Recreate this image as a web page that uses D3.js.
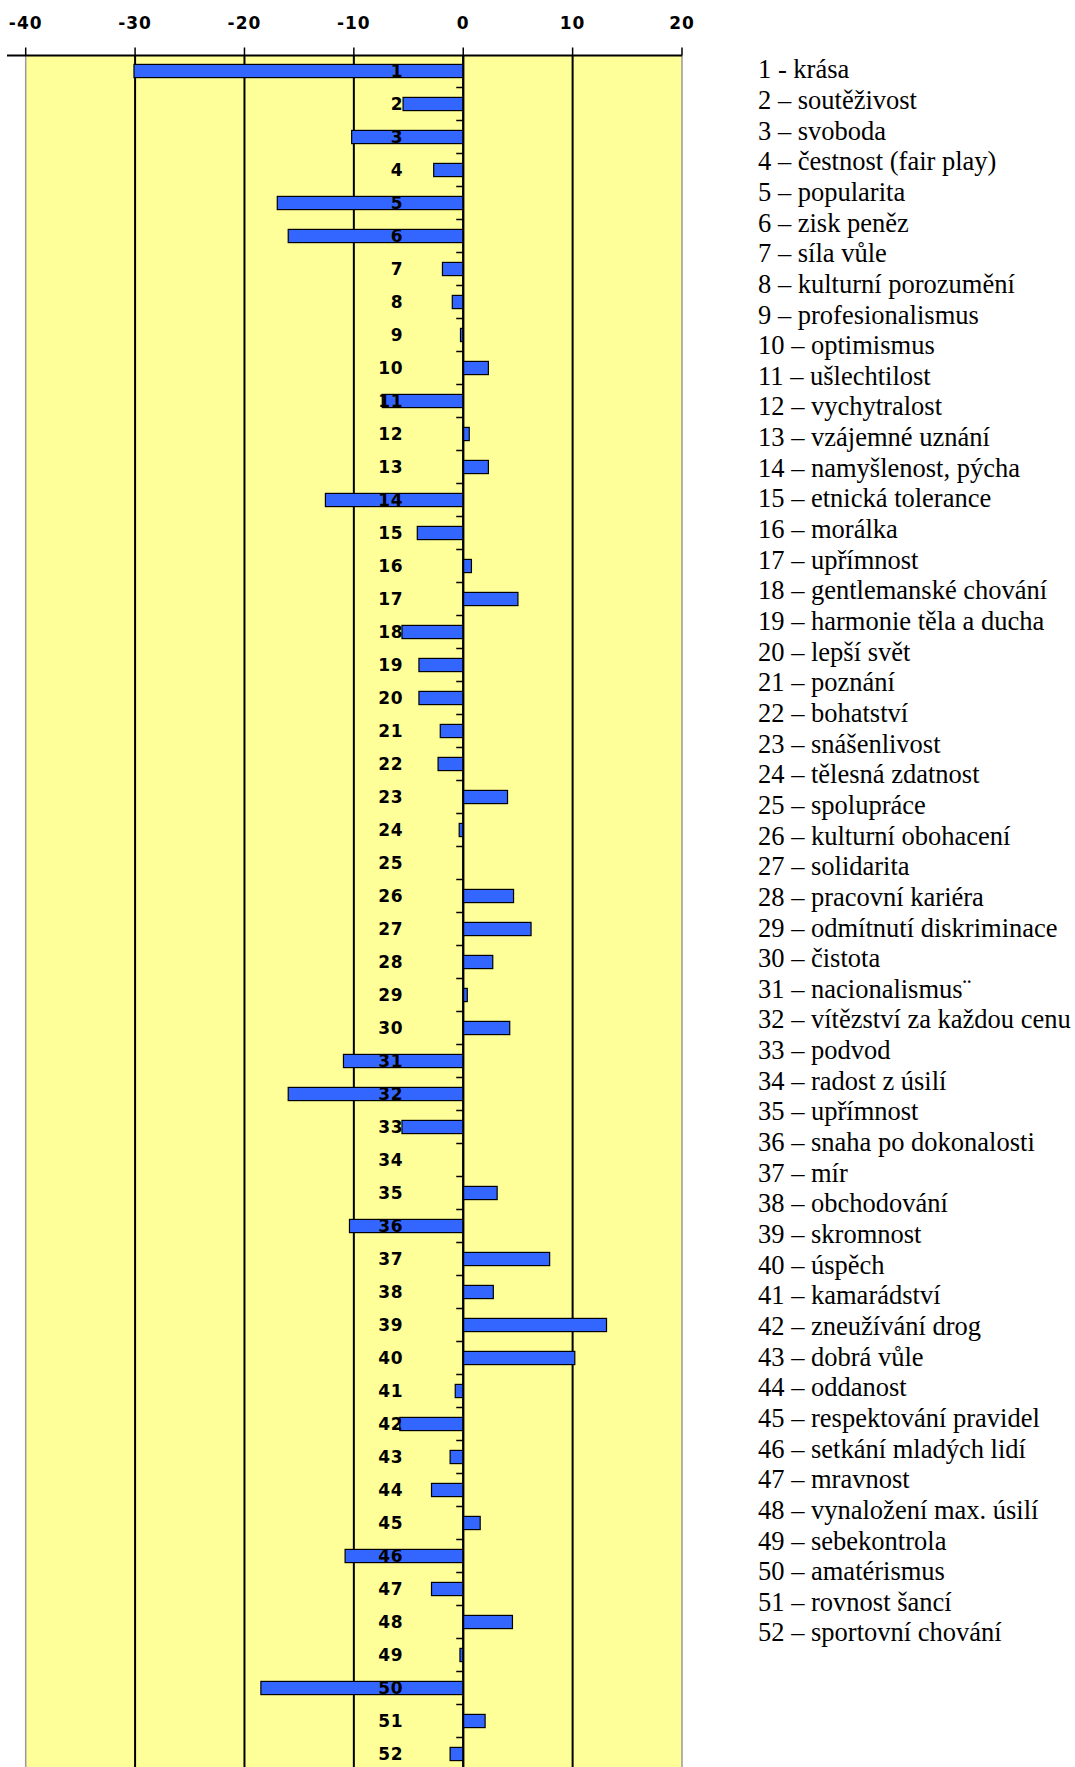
<!DOCTYPE html>
<html>
<head>
<meta charset="utf-8">
<script src="https://cdn.jsdelivr.net/npm/d3@7"></script>
<style>
  body { margin: 0; background: #fff; }
</style>
</head>
<body>
<div id="chart"></div>
<script>
// category numbers 1..52
const categories = [];
for (let i = 1; i <= 52; i++) categories.push(i);

// value for each category
const values = [
  -30.1, -5.5, -10.2, -2.7, -17.0, -16.0, -1.9, -1.0, -0.25, 2.3,
  -7.4, 0.55, 2.3, -12.6, -4.2, 0.75, 5.0, -5.6, -4.05, -4.05,
  -2.1, -2.3, 4.05, -0.37, 0, 4.6, 6.2, 2.7, 0.37, 4.25,
  -10.95, -16.0, -5.6, 0, 3.1, -10.4, 7.9, 2.75, 13.1, 10.2,
  -0.73, -5.8, -1.2, -2.9, 1.55, -10.8, -2.9, 4.5, -0.3, -18.5,
  2.0, -1.2
];

const legendLabels = [
  '1 - krása',
  '2 – soutěživost',
  '3 – svoboda',
  '4 – čestnost (fair play)',
  '5 – popularita',
  '6 – zisk peněz',
  '7 – síla vůle',
  '8 – kulturní porozumění',
  '9 – profesionalismus',
  '10 – optimismus',
  '11 – ušlechtilost',
  '12 – vychytralost',
  '13 – vzájemné uznání',
  '14 – namyšlenost, pýcha',
  '15 – etnická tolerance',
  '16 – morálka',
  '17 – upřímnost',
  '18 – gentlemanské chování',
  '19 – harmonie těla a ducha',
  '20 – lepší svět',
  '21 – poznání',
  '22 – bohatství',
  '23 – snášenlivost',
  '24 – tělesná zdatnost',
  '25 – spolupráce',
  '26 – kulturní obohacení',
  '27 – solidarita',
  '28 – pracovní kariéra',
  '29 – odmítnutí diskriminace',
  '30 – čistota',
  '31 – nacionalismus¨',
  '32 – vítězství za každou cenu',
  '33 – podvod',
  '34 – radost z úsilí',
  '35 – upřímnost',
  '36 – snaha po dokonalosti',
  '37 – mír',
  '38 – obchodování',
  '39 – skromnost',
  '40 – úspěch',
  '41 – kamarádství',
  '42 – zneužívání drog',
  '43 – dobrá vůle',
  '44 – oddanost',
  '45 – respektování pravidel',
  '46 – setkání mladých lidí',
  '47 – mravnost',
  '48 – vynaložení max. úsilí',
  '49 – sebekontrola',
  '50 – amatérismus',
  '51 – rovnost šancí',
  '52 – sportovní chování'
];

const xTicks = [-40, -30, -20, -10, 0, 10, 20];

const width = 1075;
const height = 1767;
const axisY = 55.5;
const bandStep = 33;

const svg = d3.select('#chart')
  .append('svg')
  .attr('width', width)
  .attr('height', height);

const x = d3.scaleLinear()
  .domain([-40, 20])
  .range([25.7, 682]);

const y = d3.scaleBand()
  .domain(categories)
  .range([axisY - 1, axisY - 1 + categories.length * bandStep])
  .padding(0);

// yellow plot area
svg.append('rect')
  .attr('x', x(-40))
  .attr('y', axisY)
  .attr('width', x(20) - x(-40))
  .attr('height', height - axisY)
  .attr('fill', '#ffff99');

// vertical grid lines
svg.selectAll('.grid')
  .data(xTicks)
  .enter()
  .append('line')
    .attr('x1', d => x(d))
    .attr('x2', d => x(d))
    .attr('y1', axisY)
    .attr('y2', height)
    .attr('stroke', d => (d === -40 || d === 20) ? '#999' : '#000')
    .attr('stroke-width', d => (d === -40 || d === 20) ? 1.5 : 2);

// top axis
svg.append('line')
  .attr('x1', 7)
  .attr('x2', x(20))
  .attr('y1', axisY)
  .attr('y2', axisY)
  .attr('stroke', '#000')
  .attr('stroke-width', 2);

svg.selectAll('.xtick')
  .data(xTicks)
  .enter()
  .append('line')
    .attr('x1', d => x(d))
    .attr('x2', d => x(d))
    .attr('y1', axisY - 8)
    .attr('y2', axisY)
    .attr('stroke', '#000')
    .attr('stroke-width', 1.5);

svg.selectAll('.xlabel')
  .data(xTicks)
  .enter()
  .append('text')
    .attr('x', d => x(d))
    .attr('y', 29)
    .attr('text-anchor', 'middle')
    .style('font-family', 'DejaVu Sans')
    .style('font-weight', 'bold')
    .style('font-size', '17px')
    .style('letter-spacing', '1px')
    .text(d => d);

// small ticks on the zero line between categories
svg.selectAll('.ytick')
  .data(categories.slice(1))
  .enter()
  .append('line')
    .attr('x1', x(0) - 7)
    .attr('x2', x(0))
    .attr('y1', d => y(d))
    .attr('y2', d => y(d))
    .attr('stroke', '#000')
    .attr('stroke-width', 1.5);

// bars
const barH = y.bandwidth() * 0.4;
svg.selectAll('.bar')
  .data(categories)
  .enter()
  .append('rect')
    .attr('x', (d, i) => x(Math.min(0, values[i])))
    .attr('y', d => y(d) + (y.bandwidth() - barH) / 2)
    .attr('width', (d, i) => Math.abs(x(values[i]) - x(0)))
    .attr('height', barH)
    .attr('fill', '#3366ff')
    .attr('stroke', (d, i) => values[i] === 0 ? 'none' : '#000')
    .attr('stroke-width', 1.2);

// category numbers
svg.selectAll('.cat')
  .data(categories)
  .enter()
  .append('text')
    .attr('x', 403)
    .attr('y', d => y(d) + y.bandwidth() / 2)
    .attr('dy', '0.36em')
    .attr('text-anchor', 'end')
    .style('font-family', 'DejaVu Sans')
    .style('font-weight', 'bold')
    .style('font-size', '17px')
    .style('letter-spacing', '0.5px')
    .text(d => d);

// zero line on top
svg.append('line')
  .attr('x1', x(0))
  .attr('x2', x(0))
  .attr('y1', axisY)
  .attr('y2', height)
  .attr('stroke', '#000')
  .attr('stroke-width', 2);

// legend text on the right
svg.selectAll('.legend')
  .data(legendLabels)
  .enter()
  .append('text')
    .attr('x', 758)
    .attr('y', (d, i) => 78.3 + i * 30.65)
    .style('font-family', 'Liberation Serif')
    .style('font-size', '26.5px')
    .attr('fill', '#000')
    .text(d => d);
</script>
</body>
</html>
